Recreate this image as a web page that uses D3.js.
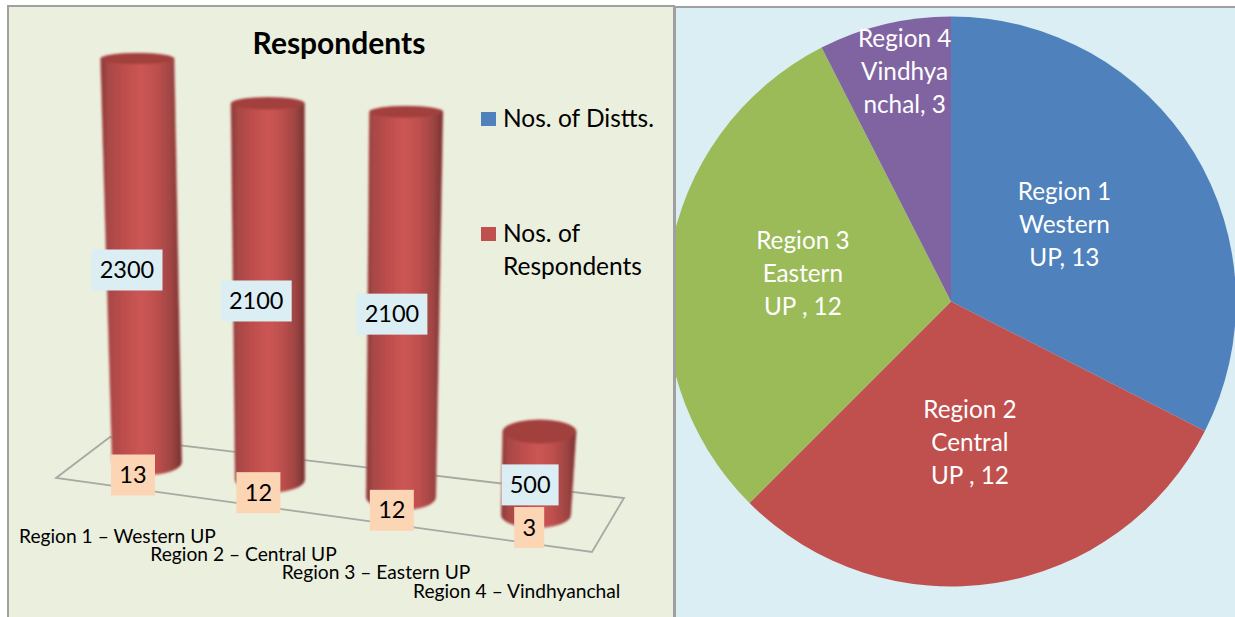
<!DOCTYPE html>
<html><head><meta charset="utf-8">
<script src="https://d3js.org/d3.v7.min.js"></script>
<style>html,body{margin:0;padding:0;background:#fff;overflow:hidden}svg{display:block}text{font-family:Lato,Carlito,"Open Sans",sans-serif}</style>
</head><body><svg id="c" width="1235" height="617"></svg>
<script>
const regions = ["Region 1 – Western UP","Region 2 – Central UP","Region 3 – Eastern UP","Region 4 – Vindhyanchal"];
const respondents = [2300,2100,2100,500];
const districts = [13,12,12,3];
const chartTitle = "Respondents";
const legendLines = [["Nos. of Distts."],["Nos. of","Respondents"]];
const pieLabels = [["Region 1","Western","UP, 13"],["Region 2","Central","UP , 12"],["Region 3","Eastern","UP , 12"],["Region 4","Vindhya","nchal, 3"]];
const pieColors = ["#4F81BD","#C0504D","#9BBB59","#8064A2"];

const svg = d3.select("#c");
const defs = svg.append("defs");

// panels
svg.append("rect").attr("x",8).attr("y",6).attr("width",666).attr("height",620).attr("fill","#EBEFDE").attr("stroke","#A0A0A0").attr("stroke-width",2);
svg.append("rect").attr("x",675).attr("y",7).attr("width",570).attr("height",620).attr("fill","#DBEEF4").attr("stroke","#A0A0A0").attr("stroke-width",2);

// ---------- pie
defs.append("clipPath").attr("id","pc").append("rect").attr("x",676).attr("y",8).attr("width",559).attr("height",609);
const cx=951, cy=301.5, R=285;
const arc=d3.arc().innerRadius(0).outerRadius(R);
const arcs=d3.pie().sort(null)(districts);
const pg=svg.append("g").attr("clip-path","url(#pc)");
pg.selectAll("path").data(arcs).join("path")
  .attr("transform",`translate(${cx},${cy})`).attr("d",arc).attr("fill",(d,i)=>pieColors[i]);
const labelR=[133,140,150,233], nudge=[[0,-8],[-3,3],[0,-5],[8,-3]];
const lg=svg.append("g");
arcs.forEach((a,i)=>{
  const m=(a.startAngle+a.endAngle)/2;
  const x=cx+labelR[i]*Math.sin(m)+nudge[i][0], y=cy-labelR[i]*Math.cos(m)+nudge[i][1];
  pieLabels[i].forEach((t,k)=>{
    lg.append("text").attr("x",x).attr("y",y+(k-1)*33+8.5).attr("text-anchor","middle")
      .attr("font-size",24.3).attr("fill","#fff").text(t);
  });
});

// ---------- bars
const f=defs.append("filter").attr("id","soft").attr("x","-10%").attr("y","-10%").attr("width","120%").attr("height","120%");
f.append("feGaussianBlur").attr("stdDeviation",1);
const g=defs.append("linearGradient").attr("id","cyl");
[[0,"#8A3B39"],[0.1,"#A84846"],[0.3,"#BE4E4C"],[0.5,"#CC5654"],[0.7,"#BC4F4D"],[0.88,"#9C4442"],[1,"#763230"]]
  .forEach(s=>g.append("stop").attr("offset",s[0]).attr("stop-color",s[1]));

const xBase=d3.scaleLinear().domain([0,1,2,3]).range([147,270,401,536]);
const yBase=d3.scaleLinear().domain([0,regions.length-1]).range([475,528]);
const depth=d3.scaleLinear().domain([0,regions.length-1]).range([1,1.07]);
const hScale=d3.scaleLinear().domain([0,2300]).range([12,422]);
const floor=[[56,478],[110,437],[624,498],[592,552]];
svg.append("path").attr("d",d3.line()(floor)+"Z").attr("fill","none").attr("stroke","#A8A9A2").attr("stroke-width",1.8);

const bars=respondents.map((v,i)=>{
  const h=hScale(v)*depth(i), bx=xBase(i), by=yBase(i);
  const tx=bx+(bx-310)*h*1.4e-4;
  const ryT=14-0.02*h, ryB=13;
  return {v,i,h,bx,by,tx,ryT,ryB,tw:37,bw:35};
});
const bg=svg.append("g").attr("filter","url(#soft)");
bg.selectAll("path.body").data(bars).join("path").attr("class","body").attr("fill","url(#cyl)")
  .attr("stroke","#D98F88").attr("stroke-width",0.6)
  .attr("d",d=>{
    const yt=d.by-d.h+d.ryT, yb=d.by-d.ryB;
    return `M${d.tx-d.tw},${yt}A${d.tw},${d.ryT} 0 0 1 ${d.tx+d.tw},${yt}L${d.bx+d.bw},${yb}A${d.bw},${d.ryB} 0 0 1 ${d.bx-d.bw},${yb}Z`;
  });
bg.selectAll("ellipse").data(bars).join("ellipse")
  .attr("cx",d=>d.tx).attr("cy",d=>d.by-d.h+d.ryT).attr("rx",d=>d.tw-1).attr("ry",d=>d.ryT)
  .attr("fill","#A23F3D");

// value boxes
function box(x,y,w,fill,txt){
  svg.append("rect").attr("x",x-w/2).attr("y",y-20.5).attr("width",w).attr("height",41).attr("fill",fill);
  svg.append("text").attr("x",x).attr("y",y+8).attr("text-anchor","middle").attr("font-size",23.5).attr("fill","#000").text(txt);
}
bars.forEach(d=>{
  const dx=-20+d.i*4.7;
  const boxW=String(d.v).length*14+15;
  box(d.bx+dx+(d.i==1||d.i==2?1.5:0),(d.by+d.by-d.h)/2+6+(d.i==3?5:0),boxW,"#DBEEF4",d.v);
  const dist=String(districts[d.i]);
  box(d.bx-14+d.i*2.4,d.by+(d.i==3?-0.5:0),dist.length==2?44:30,"#FCD5B4",dist);
});

// category labels
const labX=d3.scaleLinear().domain([0,regions.length-1]).range([19,413]);
const labY=d3.scaleLinear().domain([0,regions.length-1]).range([542.5,597.5]);
svg.selectAll("text.cat").data(regions).join("text").attr("class","cat")
  .attr("x",(d,i)=>labX(i)).attr("y",(d,i)=>labY(i)).attr("font-size",19.2).attr("fill","#000").text(d=>d);

// title
svg.append("text").attr("x",339).attr("y",54).attr("text-anchor","middle").attr("font-size",30).attr("font-weight",700).attr("fill","#000").text(chartTitle);

// legend
const legY=[119,234];
legendLines.forEach((ls,i)=>{
  svg.append("rect").attr("x",481).attr("y",legY[i]-7).attr("width",15).attr("height",14).attr("fill",pieColors[i]);
  ls.forEach((t,k)=>svg.append("text").attr("x",503).attr("y",legY[i]+8+k*33).attr("font-size",24.5).attr("fill","#000").text(t));
});
</script></body></html>
